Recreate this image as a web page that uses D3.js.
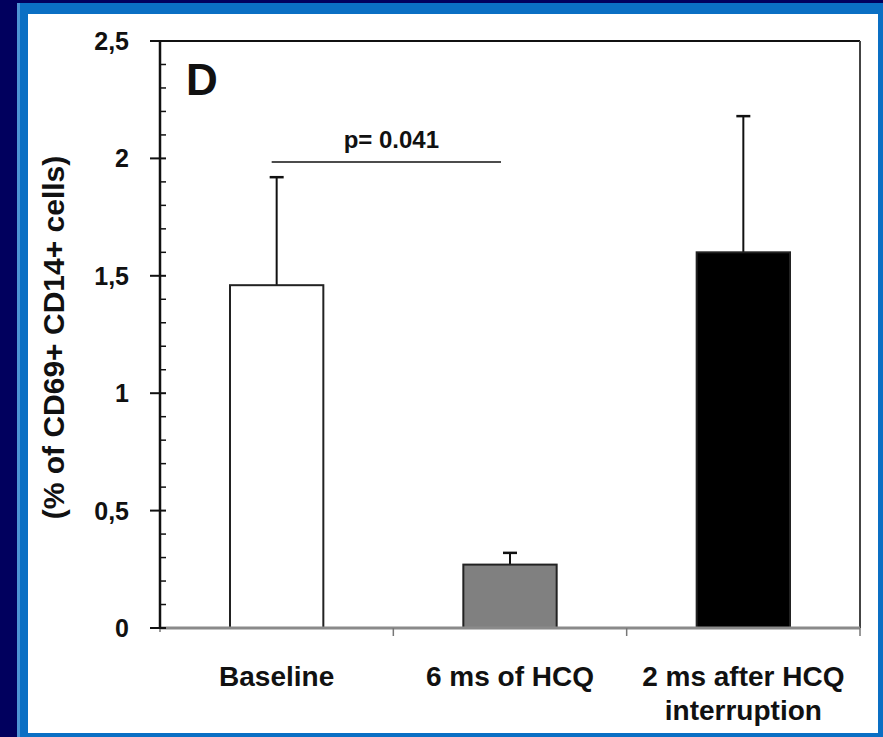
<!DOCTYPE html>
<html>
<head>
<meta charset="utf-8">
<script src="https://cdn.jsdelivr.net/npm/d3@7"></script>
<style>
  html, body { margin: 0; padding: 0; background: #01005e; }
  svg { display: block; }
  text { font-family: "Liberation Sans", Arial, sans-serif; font-weight: bold; fill: #111; }
</style>
</head>
<body>
<svg id="chart" width="883" height="737"></svg>
<script>
// Activated monocytes (CD69+ CD14+) over the course of HCQ treatment
const categories = ["Baseline", "6 ms of HCQ", "2 ms after HCQ\ninterruption"];
const means = [1.46, 0.27, 1.60];
const errUpper = [0.46, 0.05, 0.58];
const yTickValues = [0, 0.5, 1, 1.5, 2, 2.5];
const yTickLabels = ["0", "0,5", "1", "1,5", "2", "2,5"];
const pValueText = "p= 0.041";
const pBracketLevel = 1.985;
const panelLetter = "D";
const yTitle = "(% of CD69+ CD14+ cells)";

const barFills = ["#ffffff", "#808080", "#000000"];

const svg = d3.select("#chart");

// slide frame: navy background, blue border, white panel
svg.append("rect").attr("x", 0).attr("y", 0).attr("width", 883).attr("height", 737).attr("fill", "#01005e");
svg.append("rect").attr("x", 17).attr("y", 3).attr("width", 866).attr("height", 734).attr("fill", "#0a6fc4");
svg.append("rect").attr("x", 17).attr("y", 3).attr("width", 3).attr("height", 734).attr("fill", "#4d93d3");
svg.append("rect").attr("x", 28).attr("y", 14).attr("width", 850).attr("height", 719).attr("fill", "#ffffff");

const plot = { left: 160, right: 860, top: 41, bottom: 628 };

const x = d3.scaleBand().domain(categories).range([plot.left, plot.right]).paddingInner(0).paddingOuter(0);
const y = d3.scaleLinear().domain([0, 2.5]).range([plot.bottom, plot.top]);
const barW = x.bandwidth() * 0.4;

const g = svg.append("g");

// frame lines (top and right)
g.append("line").attr("x1", plot.left - 10).attr("x2", plot.right).attr("y1", y(2.5)).attr("y2", y(2.5))
  .attr("stroke", "#111").attr("stroke-width", 2);
g.append("line").attr("x1", plot.right).attr("x2", plot.right).attr("y1", y(2.5)).attr("y2", y(0))
  .attr("stroke", "#444").attr("stroke-width", 2);

// error bars (upper only)
const eb = g.selectAll("g.err").data(categories).join("g").attr("class", "err");
eb.append("line")
  .attr("x1", d => x(d) + x.bandwidth() / 2).attr("x2", d => x(d) + x.bandwidth() / 2)
  .attr("y1", (d, i) => y(means[i])).attr("y2", (d, i) => y(means[i] + errUpper[i]))
  .attr("stroke", "#111").attr("stroke-width", 2);
eb.append("line")
  .attr("x1", d => x(d) + x.bandwidth() / 2 - 7).attr("x2", d => x(d) + x.bandwidth() / 2 + 7)
  .attr("y1", (d, i) => y(means[i] + errUpper[i])).attr("y2", (d, i) => y(means[i] + errUpper[i]))
  .attr("stroke", "#111").attr("stroke-width", 2.5);

// bars
g.selectAll("rect.bar").data(categories).join("rect").attr("class", "bar")
  .attr("x", d => x(d) + (x.bandwidth() - barW) / 2)
  .attr("width", barW)
  .attr("y", (d, i) => y(means[i]))
  .attr("height", (d, i) => y(0) - y(means[i]))
  .attr("fill", (d, i) => barFills[i])
  .attr("stroke", "#222").attr("stroke-width", 2);

// x axis: gray baseline with ticks at category boundaries
g.append("line").attr("x1", plot.left).attr("x2", plot.right).attr("y1", y(0)).attr("y2", y(0))
  .attr("stroke", "#8a8a8a").attr("stroke-width", 3);
const bounds = categories.map(c => x(c)).concat([plot.right]);
g.selectAll("line.xt").data(bounds).join("line").attr("class", "xt")
  .attr("x1", d => d).attr("x2", d => d)
  .attr("y1", y(0)).attr("y2", (d, i) => y(0) + (i === 0 ? 4 : 8))
  .attr("stroke", "#777").attr("stroke-width", 1.5);

// category labels
categories.forEach(c => {
  const lines = c.split("\n");
  const t = g.append("text").attr("text-anchor", "middle")
    .attr("x", x(c) + x.bandwidth() / 2).attr("y", 686).style("font-size", "28px");
  lines.forEach((ln, k) => {
    t.append("tspan").attr("x", x(c) + x.bandwidth() / 2).attr("dy", k === 0 ? 0 : 34).text(ln);
  });
});

// y axis: black line, minor ticks inside, major ticks crossing
g.append("line").attr("x1", plot.left).attr("x2", plot.left).attr("y1", y(2.5)).attr("y2", y(0))
  .attr("stroke", "#111").attr("stroke-width", 2.5);
const minor = d3.range(0, 26).map(v => v / 10).filter(v => Math.round(v * 10) % 5 !== 0);
g.selectAll("line.ymin").data(minor).join("line").attr("class", "ymin")
  .attr("x1", plot.left).attr("x2", plot.left + 6)
  .attr("y1", d => y(d)).attr("y2", d => y(d))
  .attr("stroke", "#111").attr("stroke-width", 1.5);
g.selectAll("line.ymaj").data(yTickValues).join("line").attr("class", "ymaj")
  .attr("x1", plot.left - 10).attr("x2", plot.left + 6)
  .attr("y1", d => y(d)).attr("y2", d => y(d))
  .attr("stroke", "#111").attr("stroke-width", 2);
g.selectAll("text.ytl").data(yTickValues).join("text").attr("class", "ytl")
  .attr("x", 129).attr("y", d => y(d)).attr("dy", "0.36em")
  .attr("text-anchor", "end").style("font-size", "25px")
  .text((d, i) => yTickLabels[i]);

// y axis title
g.append("text").attr("transform", `translate(64,${(y(0) + y(2.5)) / 2 + 3}) rotate(-90)`)
  .attr("text-anchor", "middle").style("font-size", "30px").text(yTitle);

// panel letter
g.append("text").attr("x", 186).attr("y", 95).style("font-size", "44px").text(panelLetter);

// significance bracket
const c0 = x(categories[0]) + x.bandwidth() / 2;
const c1 = x(categories[1]) + x.bandwidth() / 2;
g.append("line").attr("x1", c0 - 5).attr("x2", c1 - 9)
  .attr("y1", y(pBracketLevel)).attr("y2", y(pBracketLevel))
  .attr("stroke", "#111").attr("stroke-width", 1.5);
g.append("text").attr("x", (c0 + c1) / 2 - 2).attr("y", y(pBracketLevel) - 14)
  .attr("text-anchor", "middle").style("font-size", "24px").text(pValueText);
</script>
</body>
</html>
